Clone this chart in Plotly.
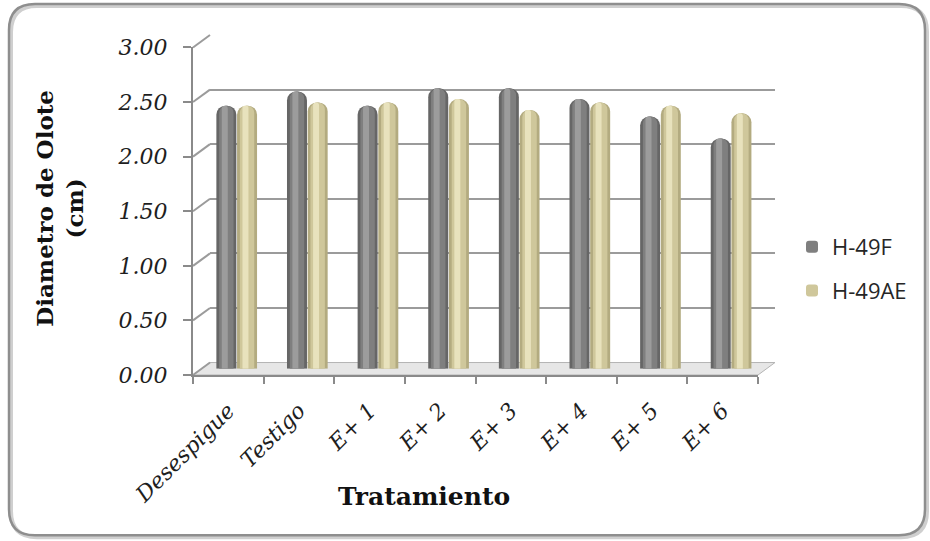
import plotly.graph_objects as go

# ---- data -------------------------------------------------------------
categories = ["Desespigue", "Testigo", "E+ 1", "E+ 2", "E+ 3", "E+ 4", "E+ 5", "E+ 6"]
h49f = [2.41, 2.54, 2.41, 2.57, 2.57, 2.47, 2.31, 2.11]
h49ae = [2.41, 2.44, 2.44, 2.47, 2.37, 2.44, 2.41, 2.34]
y_ticks = [0.0, 0.5, 1.0, 1.5, 2.0, 2.5, 3.0]
y_tick_labels = [f"{v:.2f}" for v in y_ticks]
y_max = 3.0

# ---- geometry (pixels) -------------------------------------------------
FIG_W, FIG_H = 930, 541
PL, PR, PT, PB = 193, 775, 35, 375.5      # box holding front + back planes
W, H = PR - PL, PB - PT
DX, DY = 17, 12.5                          # depth offset front -> back


def px_x(px):
    return (px - PL) / W


def px_y(py):
    return (PB - py) / H


def dom_x(f):
    s = f * DX
    return [s / W, (W - DX + s) / W]


def dom_y(f):
    s = f * DY
    return [s / H, (H - DY + s) / H]


def plane_y(v, f):
    """paper y of value v on a plane at depth fraction f"""
    return (f * DY + v / y_max * (H - DY)) / H


GRID = "#9b9b9b"
AXIS = "#8a8a8a"
SERIF = "DejaVu Serif"

fig = go.Figure()

# invisible carriers so the back-wall and front-plane subplots get drawn
for xa, ya, xs in (("x", "y", categories), ("x2", "y2", list(range(len(categories))))):
    fig.add_trace(go.Scatter(x=xs, y=h49f, xaxis=xa, yaxis=ya, mode="markers",
                             marker=dict(opacity=0), showlegend=False,
                             hoverinfo="skip"))

# ---- cylinder-like bars (mid depth, axes x3/y3) ------------------------
bar_w = 0.283
series = [
    ("H-49F", h49f, -0.148, ["#666666", "#7f7f7f", "#9c9c9c"], "f"),
    ("H-49AE", h49ae, 0.145, ["#b3ab80", "#cfc79b", "#e8e2bd"], "ae"),
]
for name, vals, c, cols, grp in series:
    layers = [
        (bar_w, c, cols[0], False),
        (bar_w * 0.72, c, cols[1], True),
        (bar_w * 0.30, c - bar_w * 0.08, cols[2], False),
    ]
    for w, cen, col, leg in layers:
        fig.add_trace(go.Bar(
            x=categories, y=vals, name=name,
            xaxis="x3", yaxis="y3",
            width=w, offset=cen - w / 2,
            marker=dict(color=col, line=dict(width=0), cornerradius="50%"),
            showlegend=leg, legendgroup=grp, hoverinfo="skip",
        ))

# ---- decorative shapes -------------------------------------------------
shapes = []


def frame_path(x0, y0, x1, y1, r):
    def p(px, py):
        return f"{px_x(px):.5f},{px_y(py):.5f}"
    return (f"M{p(x0 + r, y0)} L{p(x1 - r, y0)} Q{p(x1, y0)} {p(x1, y0 + r)} "
            f"L{p(x1, y1 - r)} Q{p(x1, y1)} {p(x1 - r, y1)} "
            f"L{p(x0 + r, y1)} Q{p(x0, y1)} {p(x0, y1 - r)} "
            f"L{p(x0, y0 + r)} Q{p(x0, y0)} {p(x0 + r, y0)} Z")


# outer rounded frame with soft shadow
shapes.append(dict(type="path", xref="paper", yref="paper", layer="below",
                   path=frame_path(11, 6, 927, 538, 26),
                   line=dict(color="#cfcfcf", width=4)))
shapes.append(dict(type="path", xref="paper", yref="paper", layer="below",
                   path=frame_path(9, 4, 925, 536, 26),
                   line=dict(color="#8e8e8e", width=2.5)))

# floor of the 3-D box
fl = [(0, 0), (dom_x(0)[1], 0), (1, dom_y(1)[0]), (dom_x(1)[0], dom_y(1)[0])]
shapes.append(dict(
    type="path", xref="paper", yref="paper", layer="below",
    path="M" + " L".join(f"{a:.5f},{b:.5f}" for a, b in fl) + " Z",
    fillcolor="#e6e6e6", line=dict(color="#b4b4b4", width=1)))

# connectors from the front ticks to the back-wall gridlines
for v in y_ticks:
    shapes.append(dict(type="line", xref="paper", yref="paper", layer="below",
                       x0=0, y0=plane_y(v, 0), x1=dom_x(1)[0], y1=plane_y(v, 1),
                       line=dict(color=GRID, width=2)))

fig.update_layout(shapes=shapes)

# ---- axes --------------------------------------------------------------
tick_font = dict(family=SERIF, size=22, color="#1e1e1e", style="italic")

fig.update_layout(
    width=FIG_W, height=FIG_H,
    margin=dict(l=PL, r=FIG_W - PR, t=PT, b=FIG_H - PB, autoexpand=False),
    paper_bgcolor="white", plot_bgcolor="rgba(0,0,0,0)",
    barmode="overlay",
    # back wall: gridlines
    xaxis=dict(domain=dom_x(1), range=[-0.5, 7.5], visible=False,
               type="category", categoryorder="array", categoryarray=categories),
    yaxis=dict(domain=dom_y(1), range=[0, y_max], anchor="x",
               tickmode="array", tickvals=y_ticks, showticklabels=False,
               showgrid=True, gridcolor=GRID, gridwidth=2, zeroline=False,
               ticks="", showline=False),
    # front plane: axis lines, ticks and labels
    xaxis2=dict(domain=dom_x(0), range=[-0.5, 7.5], anchor="y2",
                tickmode="array", tickvals=list(range(len(categories))),
                ticktext=categories, ticks="", tickangle=-45,
                ticklabelstandoff=12,
                tickfont=dict(family=SERIF, size=22, color="#1e1e1e", style="italic"),
                showline=True, linecolor=AXIS, linewidth=2, showgrid=False,
                zeroline=False, automargin=False,
                minor=dict(tickmode="linear", tick0=-0.5, dtick=1, ticks="outside",
                           ticklen=7, tickwidth=2, tickcolor=AXIS, showgrid=False)),
    yaxis2=dict(domain=dom_y(0), range=[0, y_max], anchor="x2",
                tickmode="array", tickvals=y_ticks, ticktext=y_tick_labels,
                ticks="outside", ticklen=8, tickwidth=2, tickcolor=AXIS,
                ticklabelstandoff=11, tickfont=tick_font,
                showline=True, linecolor=AXIS, linewidth=2, showgrid=False,
                zeroline=False, automargin=False),
    # mid depth: bars
    xaxis3=dict(domain=dom_x(0.5), range=[-0.5, 7.5], anchor="y3",
                type="category", categoryorder="array", categoryarray=categories,
                visible=False),
    yaxis3=dict(domain=dom_y(0.5), range=[0, y_max], anchor="x3", visible=False),
    legend=dict(xref="container", yref="container", x=792 / FIG_W,
                y=1 - 226 / FIG_H, yanchor="top", xanchor="left",
                font=dict(family="Open Sans", size=22, color="#262626"),
                tracegroupgap=12, bgcolor="rgba(0,0,0,0)", traceorder="grouped"),
    annotations=[
        dict(text="Diametro de Olote<br>(cm)", xref="paper", yref="paper",
             x=px_x(60), y=px_y(209), textangle=-90, showarrow=False,
             font=dict(family=SERIF, size=23, color="#111111", weight="bold"),
             xanchor="center", yanchor="middle"),
        dict(text="Tratamiento", xref="paper", yref="paper",
             x=px_x(424), y=px_y(497), showarrow=False,
             font=dict(family=SERIF, size=25, color="#111111", weight="bold"),
             xanchor="center", yanchor="middle"),
    ],
)

fig.write_html("out.html")
